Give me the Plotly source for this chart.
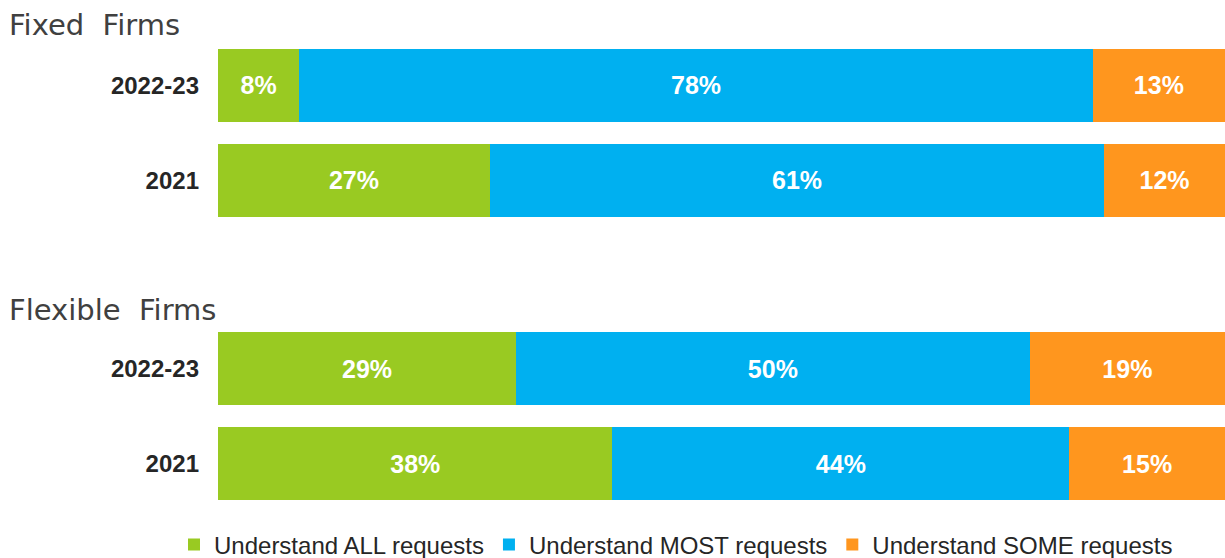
import plotly.graph_objects as go

# Survey results: share of firms understanding customer requests
years = ["2022-23", "2021"]
groups = ["Fixed\u00a0\u00a0Firms", "Flexible\u00a0\u00a0Firms"]
series = ["Understand ALL requests", "Understand MOST requests", "Understand SOME requests"]
colors = ["#99CA22", "#00B0F0", "#FF961E"]

fixed_all = [8, 27]
fixed_most = [78, 61]
fixed_some = [13, 12]

flex_all = [29, 38]
flex_most = [50, 44]
flex_some = [19, 15]

group_values = [
    [fixed_all, fixed_most, fixed_some],
    [flex_all, flex_most, flex_some],
]

fig = go.Figure()
for gi, vals in enumerate(group_values):
    xa = "x" if gi == 0 else "x2"
    ya = "y" if gi == 0 else "y2"
    for si, v in enumerate(vals):
        fig.add_trace(go.Bar(
            y=years, x=v, orientation="h",
            name=series[si], legendgroup=series[si], showlegend=(gi == 0),
            marker=dict(color=colors[si], line=dict(width=0)),
            text=[f"{n}%" for n in v], textposition="inside",
            insidetextanchor="middle",
            textfont=dict(family="Liberation Sans", size=25, color="white", weight="bold"),
            xaxis=xa, yaxis=ya, hoverinfo="skip",
        ))

H = 558
axis_common = dict(showgrid=False, zeroline=False, showline=False, showticklabels=False,
                   fixedrange=True)
yaxis_common = dict(type="category", autorange="reversed", showgrid=False, zeroline=False,
                    showline=False, ticks="", ticklabelstandoff=18,
                    tickfont=dict(family="Liberation Sans", size=24, color="#262626", weight="bold"))

fig.update_layout(
    width=1225, height=H,
    margin=dict(l=0, r=0, t=0, b=0, autoexpand=False),
    paper_bgcolor="white", plot_bgcolor="white",
    barmode="stack", barnorm="percent", bargap=0.23,
    xaxis=dict(domain=[218 / 1225, 1], anchor="y", range=[0, 100], **axis_common),
    xaxis2=dict(domain=[218 / 1225, 1], anchor="y2", range=[0, 100], **axis_common),
    yaxis=dict(domain=[1 - 227.5 / H, 1 - 38 / H], anchor="x", **yaxis_common),
    yaxis2=dict(domain=[1 - 511 / H, 1 - 321 / H], anchor="x2", **yaxis_common),
    legend=dict(orientation="h", x=174 / 1225, xanchor="left", y=1 - 545 / H, yanchor="middle",
                font=dict(family="Liberation Sans", size=24, color="#262626"),
                itemclick=False, itemdoubleclick=False, traceorder="normal"),
    uniformtext=dict(mode=False),
)

for gi, (g, ypx) in enumerate(zip(groups, [25, 310])):
    fig.add_annotation(text=g, xref="paper", yref="paper", x=7 / 1225, y=1 - ypx / H,
                       xanchor="left", yanchor="middle", showarrow=False,
                       font=dict(family="DejaVu Sans", size=29, color="#404040"))

fig.write_html("out.html")
